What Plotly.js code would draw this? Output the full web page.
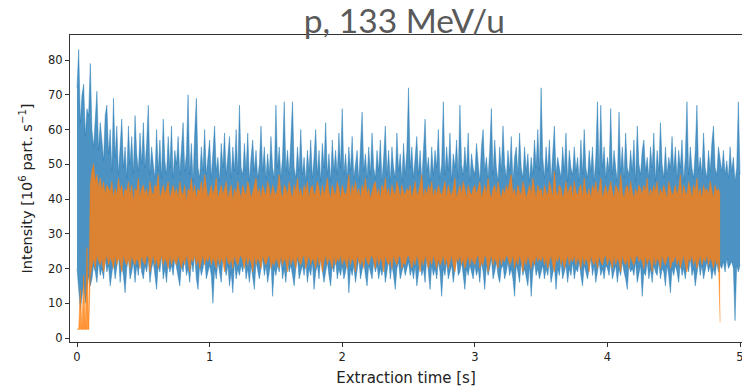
<!DOCTYPE html>
<html>
<head>
<meta charset="utf-8">
<script src="https://cdn.plot.ly/plotly-3.0.1.min.js"></script>
<style>html,body{margin:0;padding:0;background:#fff;}#chart{width:742px;height:388px;}</style>
</head>
<body>
<div id="chart"></div>
<script>
// Sampling of the extraction time axis [s] (one envelope value per time bin)
const timeStart = 0;
const timeStep = 0.0125;

// Blue series: per-bin maximum and minimum intensity [10^6 part./s], t = 0 ... 5.0 s
const blueUpper = [
72,83,62,70,73,58,66,64,79,60,55,63,71,54,62,57,51,64,67,53,
60,48,69,52,61,47,57,63,49,55,46,61,50,58,47,64,53,48,59,50,
62,49,56,67,47,55,50,46,60,48,57,46,63,51,47,58,49,61,46,54,
50,58,47,55,62,48,53,70,47,56,45,59,69,49,46,55,48,60,47,52,
57,46,53,61,48,52,45,56,49,59,47,53,58,46,55,48,60,47,67,49,
47,56,48,59,45,52,57,48,54,46,50,61,48,55,46,53,47,58,49,46,
67,49,55,46,52,68,48,54,47,57,68,49,46,55,48,60,47,52,45,54,
48,57,46,52,60,47,54,45,56,49,62,47,53,45,57,48,54,47,59,49,
66,47,53,46,55,48,58,46,51,54,45,56,65,48,53,46,55,47,59,49,
46,54,48,57,45,52,61,47,54,45,55,49,46,59,48,53,45,56,47,54,
72,49,55,46,52,58,47,54,45,56,63,48,52,45,55,47,54,49,60,46,
50,68,47,55,48,59,45,53,49,57,46,67,50,47,55,48,59,45,53,49,
47,56,50,45,55,60,48,52,46,54,66,47,57,49,45,55,48,61,50,46,
54,48,58,45,52,55,47,59,49,46,55,48,53,45,52,47,57,49,60,48,
72,52,46,55,48,57,45,53,61,47,52,49,46,55,48,59,45,54,49,47,
55,48,52,45,57,47,60,49,46,54,48,55,45,52,68,47,67,49,55,46,
52,48,66,47,54,49,45,65,48,55,46,59,49,47,54,48,57,45,61,50,
47,54,57,48,52,46,55,49,59,45,54,48,62,50,46,55,47,52,49,58,
48,55,46,54,49,57,45,52,68,47,55,49,46,54,67,48,52,47,59,49,
46,54,48,56,61,49,47,55,52,48,54,47,51,46,55,48,52,45,49,68,
47
];
const blueLower = [
20,14,8,12,16,10,14,18,15,17,21,19,16,22,18,20,17,23,19,21,
15,19,22,17,20,24,16,21,18,13,20,23,17,19,22,16,21,18,24,19,
17,21,19,23,16,20,22,18,14,21,19,24,17,20,16,22,19,21,18,23,
20,17,15,21,19,23,18,20,16,22,19,24,17,14,21,18,20,23,17,19,
21,18,10,20,17,22,19,16,23,20,18,21,15,19,13,22,17,20,18,21,
19,23,17,20,16,21,18,14,22,19,17,20,23,18,21,16,19,22,12,20,
18,21,19,23,17,20,16,22,19,21,18,15,20,23,17,19,21,18,22,16,
20,18,22,14,19,21,17,23,20,16,19,22,18,15,21,19,23,17,20,18,
21,17,19,22,13,20,18,21,16,19,23,17,20,22,18,15,21,19,17,22,
19,21,17,20,18,22,16,19,23,17,21,18,14,20,22,17,19,21,18,20,
22,18,20,17,21,15,19,22,18,20,16,23,19,14,21,18,20,17,22,19,
12,20,18,22,17,19,21,16,20,23,18,19,22,17,14,20,18,21,19,17,
21,18,20,16,22,19,14,21,18,20,23,17,19,22,18,16,20,21,17,19,
22,18,20,17,12,21,19,16,22,18,20,17,15,21,12,19,22,18,20,17,
19,21,17,20,18,22,16,19,21,14,20,18,22,17,19,21,16,20,18,22,
17,20,19,22,18,15,21,19,17,20,23,18,21,16,19,22,18,20,17,21,
20,18,22,17,19,21,16,20,18,22,19,17,14,21,19,20,18,22,16,19,
21,12,19,18,22,17,20,16,21,19,18,22,17,20,19,15,21,18,13,20,
18,21,19,16,22,18,20,17,21,19,23,18,20,15,19,22,18,21,17,20,
22,19,21,17,20,18,22,19,21,20,22,19,23,20,21,22,20,5,21,19,
21
];

// Orange series: per-bin maximum and minimum intensity [10^6 part./s], t = 0 ... 4.85 s
const orangeUpper = [
2.5,2.5,14,2.5,18,2.5,26,2.5,44,48,50,45,47,43,46,42,45,41,44,43,
42,45,40,43,41,46,42,44,40,43,42,45,41,44,39,43,42,46,40,43,
44,41,43,40,45,42,41,44,43,47,40,42,44,41,43,45,40,42,44,41,
43,40,45,42,41,44,39,43,42,46,41,44,40,43,42,45,41,47,43,40,
42,44,41,43,46,40,42,44,41,43,45,40,42,44,39,43,41,45,42,40,
44,42,41,45,43,40,42,44,46,41,43,40,44,42,41,45,43,40,44,42,
41,43,47,42,40,44,43,41,45,42,40,44,42,46,41,43,40,44,42,45,
40,43,44,41,42,45,43,40,44,41,43,46,42,40,44,42,41,45,43,40,
44,42,41,43,47,40,44,42,45,41,43,40,44,42,46,41,43,40,42,44,
45,41,43,40,44,42,46,41,43,40,44,42,41,45,43,40,44,42,41,43,
42,44,40,43,45,41,42,44,47,40,43,41,44,42,45,40,43,41,44,42,
41,43,45,40,44,42,41,43,46,40,42,44,41,45,43,40,44,42,41,43,
44,41,43,45,40,42,44,41,46,42,40,43,44,41,45,42,40,43,41,44,
42,45,47,41,43,40,44,42,41,45,43,40,42,44,41,46,43,40,44,42,
43,40,44,42,41,45,43,40,48,42,41,44,43,40,42,45,41,43,44,40,
45,42,41,43,44,40,46,42,41,43,40,44,42,45,41,43,46,40,42,44,
41,43,45,42,40,44,43,41,47,42,40,43,44,41,45,42,40,43,41,44,
43,41,44,42,46,40,43,41,44,42,45,40,43,41,44,42,40,45,43,41,
42,44,41,43,47,40,44,42,41,45,43,40,44,42,46,41,43,40,44,42,
43,41,45,42,40,44,42,43,41
];
const orangeLower = [
2.5,2.5,2.5,2.5,2.5,2.5,2.5,2.5,18,21,23,20,24,22,21,23,19,22,24,21,
23,22,20,24,21,23,22,19,24,22,21,23,20,24,22,21,23,22,20,24,
22,21,24,23,19,22,24,21,23,20,22,24,21,23,22,20,24,21,23,22,
21,24,22,20,23,21,24,22,19,23,22,24,21,23,20,22,24,21,23,22,
24,21,23,22,20,24,21,23,22,19,24,22,21,23,20,24,22,21,23,24,
22,20,24,21,23,22,19,24,21,23,22,20,24,22,21,23,24,20,22,21,
23,22,20,24,21,23,22,19,24,21,23,22,20,24,22,21,23,24,20,22,
24,21,23,22,20,24,21,23,19,22,24,21,23,22,20,24,21,23,22,24,
21,23,22,20,24,21,23,22,19,24,22,21,23,20,24,22,21,23,24,22,
20,24,21,23,22,19,24,22,21,23,20,24,22,21,23,24,20,22,21,23,
24,22,20,23,21,24,22,19,23,21,24,22,20,23,21,24,22,20,23,21,
22,24,21,23,20,22,24,21,19,23,22,24,21,23,20,22,24,21,23,22,
21,23,24,20,22,21,24,23,19,22,24,21,23,22,20,24,21,23,22,24,
23,21,22,24,20,23,21,24,22,19,23,21,24,22,20,23,21,24,22,23,
22,24,21,23,20,22,24,21,19,23,22,24,21,23,20,22,24,21,23,22,
24,21,23,22,20,24,21,23,22,19,24,22,21,23,20,24,22,21,23,24,
21,23,22,20,24,21,23,22,19,24,22,21,23,20,24,22,21,23,24,22,
23,22,20,24,21,23,22,19,24,21,23,22,20,24,22,21,23,24,20,22,
22,24,21,23,20,22,24,21,19,23,22,24,21,23,20,22,24,21,23,22,
24,21,23,22,20,23,21,22,4.5
];

const xTickValues = [0, 1, 2, 3, 4, 5];
const yTickValues = [0, 10, 20, 30, 40, 50, 60, 70, 80];

const blueColor = 'rgba(31,119,180,0.8)';
const orangeColor = 'rgba(255,127,14,0.8)';

function band(lower, upper, color, lineColor) {
  return [
    {type: 'scatter', mode: 'lines', x0: timeStart, dx: timeStep, y: lower,
     line: {color: lineColor, width: 0.8}, hoverinfo: 'skip', showlegend: false},
    {type: 'scatter', mode: 'lines', x0: timeStart, dx: timeStep, y: upper,
     line: {color: lineColor, width: 0.8}, fill: 'tonexty', fillcolor: color,
     hoverinfo: 'skip', showlegend: false}
  ];
}

const traces = band(blueLower, blueUpper, blueColor, 'rgba(31,119,180,0.55)')
  .concat(band(orangeLower, orangeUpper, orangeColor, 'rgba(255,127,14,0.6)'));

const tickFont = {family: 'DejaVu Sans', size: 11.5, color: '#222'};
const layout = {
  width: 742, height: 388,
  margin: {l: 69.5, r: 0, t: 35, b: 46, pad: 0},
  paper_bgcolor: '#fff', plot_bgcolor: '#fff',
  showlegend: false,
  title: {
    text: 'p, 133 MeV/u',
    font: {family: 'Lato', size: 33.5, color: '#595959'},
    xref: 'container', x: 0.545, xanchor: 'center',
    yref: 'container', y: 0.946, yanchor: 'middle'
  },
  xaxis: {
    range: [-0.053, 5.015],
    tickvals: xTickValues, ticktext: xTickValues.map(String),
    ticks: 'outside', ticklen: 4, tickwidth: 1, tickcolor: '#333',
    ticklabeloverflow: 'allow',
    showline: true, linecolor: '#333', linewidth: 1, mirror: true,
    showgrid: false, zeroline: false,
    tickfont: tickFont,
    title: {text: 'Extraction time [s]', font: {family: 'DejaVu Sans', size: 15, color: '#222'}, standoff: 9}
  },
  yaxis: {
    range: [-1.15, 87.2],
    tickvals: yTickValues, ticktext: yTickValues.map(String),
    ticks: 'outside', ticklen: 4, tickwidth: 1, tickcolor: '#333',
    showline: true, linecolor: '#333', linewidth: 1, mirror: false,
    showgrid: false, zeroline: false,
    tickfont: tickFont,
    title: {text: 'Intensity [10<sup>6</sup> part. s<sup>\u22121</sup>]', font: {family: 'DejaVu Sans', size: 14.5, color: '#222'}, standoff: 11}
  }
};

Plotly.newPlot('chart', traces, layout, {staticPlot: true, displayModeBar: false});
</script>
</body>
</html>
